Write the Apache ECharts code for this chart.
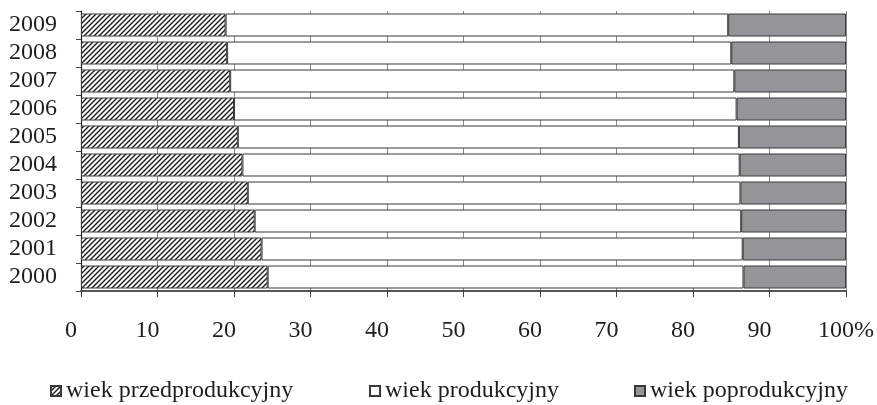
<!DOCTYPE html>
<html>
<head>
<meta charset="utf-8">
<script src="https://cdn.jsdelivr.net/npm/echarts@6/dist/echarts.min.js"></script>
<style>html,body{margin:0;padding:0;background:#fff}#c{width:877px;height:405px}</style>
</head>
<body>
<div id="c"></div>
<script>
const years = ['2000','2001','2002','2003','2004','2005','2006','2007','2008','2009'];
const przedprodukcyjny = [24.4, 23.6, 22.7, 21.8, 21.1, 20.5, 20.0, 19.5, 19.1, 18.9];
const produkcyjny = [62.2, 62.9, 63.6, 64.4, 65.0, 65.5, 65.7, 65.9, 65.9, 65.7];
const poprodukcyjny = [13.4, 13.5, 13.7, 13.8, 13.9, 14.0, 14.3, 14.6, 15.0, 15.4];
const xTicks = [0,10,20,30,40,50,60,70,80,90,100];
const names = ['wiek przedprodukcyjny','wiek produkcyjny','wiek poprodukcyjny'];

const FONT = '"Liberation Serif", "Times New Roman", serif';
const TXT = '#1e1e1e';

// diagonal hatch tile
const tile = document.createElement('canvas');
const n = 5;
tile.width = n; tile.height = n;
const g = tile.getContext('2d');
g.fillStyle = '#fff'; g.fillRect(0,0,n,n);
g.strokeStyle = '#1a1a1a'; g.lineWidth = 1.4;
g.beginPath();
g.moveTo(-1, n+1); g.lineTo(n+1, -1);
g.moveTo(-1, 1); g.lineTo(1, -1);
g.moveTo(n-1, n+1); g.lineTo(n+1, n-1);
g.stroke();
const hatch = {image: tile, repeat: 'repeat'};

const chart = echarts.init(document.getElementById('c'), null, {renderer:'canvas'});
const legendBase = {
  top: 379, padding: 0, itemWidth: 10, itemHeight: 10, icon: 'rect',
  textStyle: {fontFamily: FONT, fontSize: 24, color: TXT}
};
chart.setOption({
  animation: false,
  backgroundColor: '#fff',
  grid: {left: 81, right: 30, top: 11, bottom: 114, containLabel: false},
  legend: [
    Object.assign({left: 50, data: [names[0]]}, legendBase),
    Object.assign({left: 369, data: [names[1]]}, legendBase),
    Object.assign({left: 634, data: [names[2]]}, legendBase)
  ],
  xAxis: {
    type: 'value', min: 0, max: 100, interval: 10,
    axisLine: {show: true, lineStyle: {color: '#222', width: 1.5}},
    axisTick: {show: true, length: 6, lineStyle: {color: '#444'}},
    splitLine: {show: true, lineStyle: {color: '#888', width: 1}},
    axisLabel: {
      margin: 28,
      formatter: function(v){ return v === 100 ? '{a|100}{a|%}' : '{a|' + v + '}{h|%}'; },
      rich: {
        a: {fontFamily: FONT, fontSize: 24, color: TXT},
        h: {fontFamily: FONT, fontSize: 24, color: 'rgba(0,0,0,0)'}
      }
    }
  },
  yAxis: {
    type: 'category', data: years,
    axisLine: {show: true, lineStyle: {color: '#222', width: 1.2}},
    axisTick: {show: true, length: 5, lineStyle: {color: '#444'}},
    axisLabel: {interval: 0, margin: 24, fontFamily: FONT, fontSize: 24, color: TXT}
  },
  series: [
    {name: names[0], type: 'bar', stack: 's', barWidth: 23, data: przedprodukcyjny,
     itemStyle: {color: hatch, borderColor: '#3a3a3a', borderWidth: 1}},
    {name: names[1], type: 'bar', stack: 's', barWidth: 23, data: produkcyjny,
     itemStyle: {color: '#ffffff', borderColor: '#3a3a3a', borderWidth: 1}},
    {name: names[2], type: 'bar', stack: 's', barWidth: 23, data: poprodukcyjny,
     itemStyle: {color: '#949598', borderColor: '#3a3a3a', borderWidth: 1}}
  ]
});
</script>
</body>
</html>
